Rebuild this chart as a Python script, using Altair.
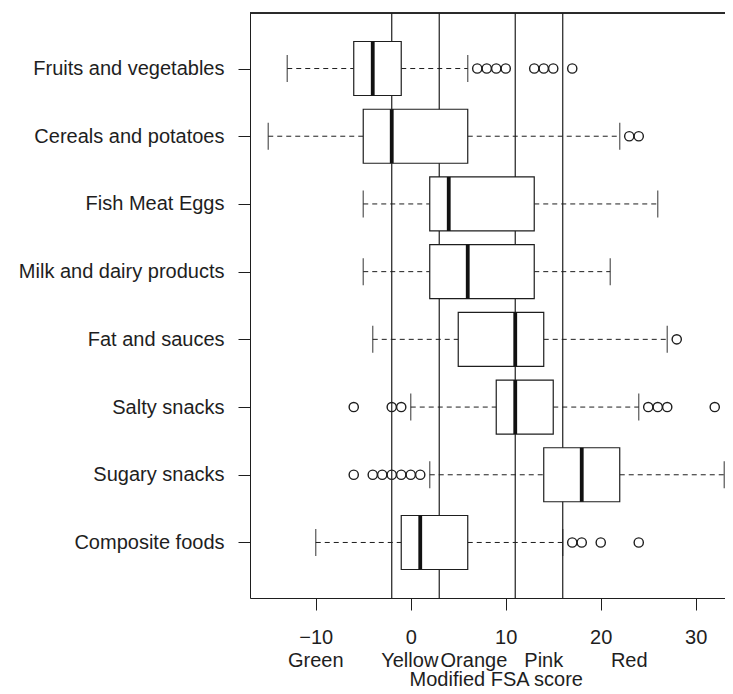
import altair as alt
import pandas as pd

categories = ["Fruits and vegetables", "Cereals and potatoes", "Fish Meat Eggs",
              "Milk and dairy products", "Fat and sauces", "Salty snacks",
              "Sugary snacks", "Composite foods"]
whisker_low = [-13, -15, -5, -5, -4, 0, 2, -10]
q1 = [-6, -5, 2, 2, 5, 9, 14, -1]
median = [-4, -2, 4, 6, 11, 11, 18, 1]
q3 = [-1, 6, 13, 13, 14, 15, 22, 6]
whisker_high = [6, 22, 26, 21, 27, 24, 33, 16]

out_fruits = [7, 8, 9, 10, 13, 14, 15, 17]
out_cereals = [23, 24]
out_fat = [28]
out_salty = [-6, -2, -1, 25, 26, 27, 32]
out_sugary = [-6, -4, -3, -2, -1, 0, 1]
out_composite = [17, 18, 20, 24]

cutoffs = [-2, 3, 11, 16]
band_names = ["Green", "Yellow", "Orange", "Pink", "Red"]
band_pos = [-10, -0.1, 6.65, 14, 23]
x_title = "Modified FSA score"
x_ticks = [-10, 0, 10, 20, 30]

box_df = pd.DataFrame({"cat": categories, "lo": whisker_low, "q1": q1,
                       "med": median, "q3": q3, "hi": whisker_high})
out_rows = []
for c, vals in [("Fruits and vegetables", out_fruits), ("Cereals and potatoes", out_cereals),
                ("Fat and sauces", out_fat), ("Salty snacks", out_salty),
                ("Sugary snacks", out_sugary), ("Composite foods", out_composite)]:
    for v in vals:
        out_rows.append({"cat": c, "v": v})
out_df = pd.DataFrame(out_rows)
cut_df = pd.DataFrame({"c": cutoffs})
band_df = pd.DataFrame({"name": band_names, "pos": band_pos})
title_df = pd.DataFrame({"name": [x_title], "pos": [9.0]})

W, H = 475, 585
INK = "#1e1e1e"
FONT = "Liberation Sans"
xscale = alt.Scale(domain=[-16.92, 33.08], nice=False, zero=False)
yscale = alt.Scale(type="point", domain=categories, padding=0.82)
xax = alt.Axis(values=x_ticks, title=None, tickSize=12, labelPadding=17, labelFontSize=20,
               grid=False, format="d", labelColor=INK, tickColor=INK, domainColor=INK,
               labelFont=FONT)
yax = alt.Axis(title=None, tickSize=12, labelPadding=14, labelFontSize=20, labelLimit=400,
               labelColor=INK, tickColor=INK, domainColor=INK, labelFont=FONT)

Y = alt.Y("cat:N", scale=yscale, axis=yax, sort=categories)

base = alt.Chart(box_df)

whisk_lo = base.mark_rule(color=INK, strokeDash=[5, 4], strokeWidth=1).encode(
    x=alt.X("lo:Q", scale=xscale, axis=xax), x2="q1:Q", y=Y)
whisk_hi = base.mark_rule(color=INK, strokeDash=[5, 4], strokeWidth=1).encode(
    x=alt.X("q3:Q", scale=xscale, axis=xax), x2="hi:Q", y=Y)
cap_lo = base.mark_tick(color=INK, size=27, thickness=1.3).encode(
    x=alt.X("lo:Q", scale=xscale, axis=xax), y=Y)
cap_hi = base.mark_tick(color=INK, size=27, thickness=1.3).encode(
    x=alt.X("hi:Q", scale=xscale, axis=xax), y=Y)
box = base.mark_bar(fill="white", stroke=INK, strokeWidth=1.2, size=54).encode(
    x=alt.X("q1:Q", scale=xscale, axis=xax), x2="q3:Q", y=Y)
med = base.mark_tick(color="#111111", size=54, thickness=3.8, opacity=1).encode(
    x=alt.X("med:Q", scale=xscale, axis=xax), y=Y)

outs = alt.Chart(out_df).mark_point(shape="circle", filled=False, color=INK, size=85,
                                    strokeWidth=1.4, opacity=1).encode(
    x=alt.X("v:Q", scale=xscale, axis=xax), y=Y)

cuts = alt.Chart(cut_df).mark_rule(color=INK, strokeWidth=1.2).encode(
    x=alt.X("c:Q", scale=xscale, axis=xax))

top_line = alt.Chart(cut_df).mark_rule(color=INK, strokeWidth=1.2).encode(
    x=alt.value(0), x2=alt.value(W), y=alt.value(0))

band_text = alt.Chart(band_df).mark_text(fontSize=20, font=FONT, color=INK,
                                         baseline="alphabetic", align="center").encode(
    x=alt.X("pos:Q", scale=xscale, axis=xax), y=alt.value(H + 69), text="name:N")
title_text = alt.Chart(title_df).mark_text(fontSize=20, font=FONT, color=INK,
                                           baseline="alphabetic", align="center").encode(
    x=alt.X("pos:Q", scale=xscale, axis=xax), y=alt.value(H + 88), text="name:N")

chart = alt.layer(cuts, whisk_lo, whisk_hi, cap_lo, cap_hi, box, med, outs, top_line,
                  band_text, title_text).properties(
    width=W, height=H,
    autosize=alt.AutoSizeParams(type="none"),
    padding={"left": 242, "top": 5, "right": 0, "bottom": 96},
    background="white",
).configure_view(stroke=None).configure(font=FONT)

chart.save("out.html", embed_options={"renderer": "svg", "actions": False})
